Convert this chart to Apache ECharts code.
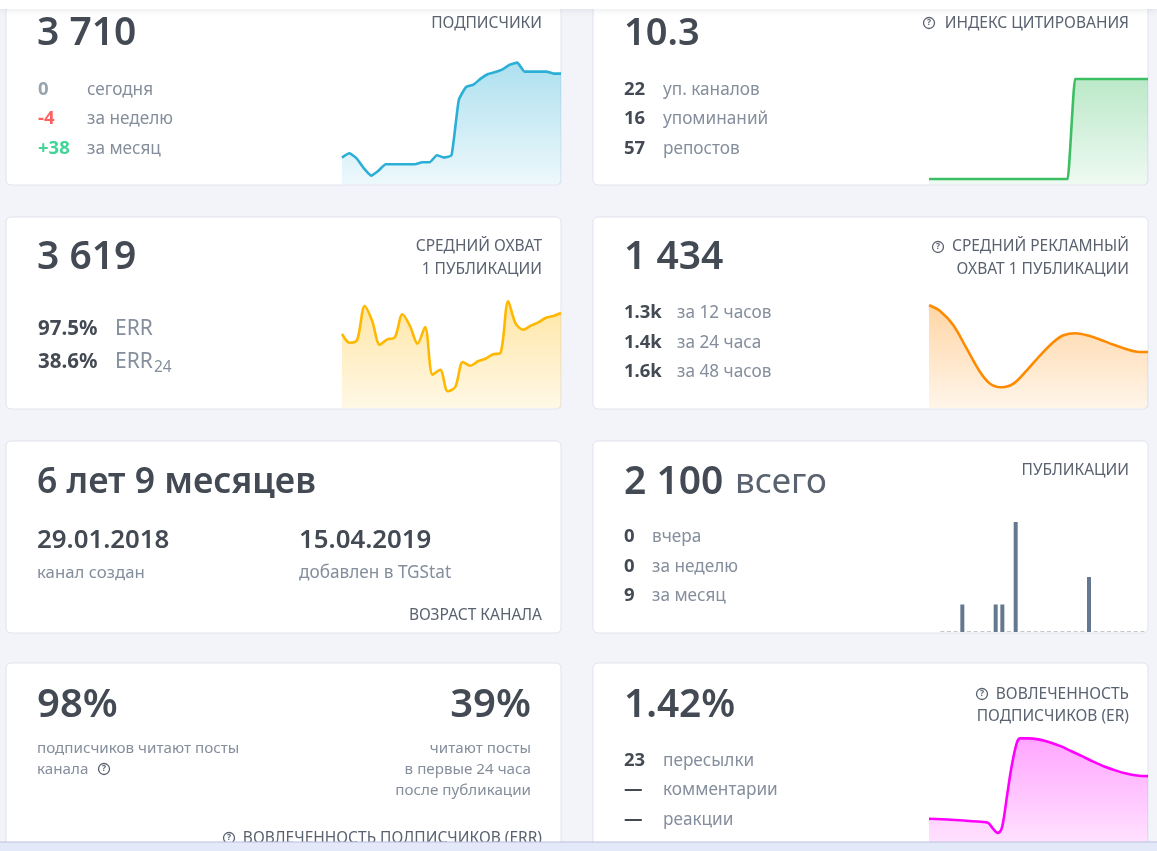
<!DOCTYPE html>
<html>
<head>
<meta charset="utf-8">
<title>TGStat</title>
<script src="https://cdn.jsdelivr.net/npm/echarts@6/dist/echarts.min.js"></script>
<style>
    html, body { margin:0; padding:0; background:#f3f4fa; overflow:hidden; }
    #main { width:1157px; height:851px; }
</style>
</head>
<body>
<div id="main"></div>
<script>
// значения снизу карточки
var subscribers = [26.7,31,26,16,8.7,13.7,20,20,20,20,20,22,22,29,26.7,29,84.3,97.3,99.7,105.7,110.3,112.3,115,119.7,121.7,112.7,112.7,112.7,112.7,110.7,110.7];
var citation = [5.3,5.3,5.3,5.3,5.3,5.3,5.3,5.3,5.3,5.3,5.3,5.3,5.3,5.3,5.3,5.3,5.3,5.3,5.3,5.3,105.3,105.3,105.3,105.3,105.3,105.3,105.3,105.3,105.3,105.3,105.3];
var avgReach = [74,65.3,68,102,87,63.3,68.7,70.7,93.7,82,64.3,81,33.3,38.3,16.7,21,46,42.3,46.7,49.3,53.7,55.3,106.7,84.3,78.3,82.3,85.7,90.3,92,95];
var adX = [0,33,73,113,153,183,218,253,293,333,373,403,438,473,513,553,593,623,656];
var adY = [102.7,97,82.7,59.3,36,24.3,20.7,24.3,37.7,52.7,66,72.7,74.7,72.7,68.3,63.3,58.7,56.3,56];
var posts = [0,0,0,1,0,0,0,0,1,1,0,4,0,0,0,0,0,0,0,0,0,0,2,0,0,0,0,0,0,0,0];
var erX = [0,66,131,176,191,206,216,223,235,248,263,273,296,328,361,394,427,460,492,525,558,591,623,656];
var erY = [33.3,32.3,30.7,29.3,23.3,18.7,21.7,31.7,60,88.3,111.7,116.3,116.3,115.3,112.3,108.3,103,97.7,92.3,87.3,83.3,80,78,77.3];

var cardRows = [-7, 217, 441, 663];
var cardCols = [6, 593];

var FONT = '"Noto Sans", sans-serif';
var DARK = '#434a54', GRAY = '#858e9c', CAPTION = '#5a6270';
var CAP_SIZE = 15.5, NOTE_SIZE = 15.2;

var elements = [];

var addText = function(x, y, str, size, color, weight, align){
    elements.push({
        type:'text', x:x, y:y, z:3,
        style:{
            text:str, fontFamily:FONT, fontSize:size, fill:color,
            fontWeight:weight || 400, align:align || 'left', verticalAlign:'middle'
        }
    });
};

var addCaption = function(x, y, str){
    addText(x, y, str, CAP_SIZE, CAPTION, 400, 'right');
};

var addHelp = function(x, y){
    elements.push({type:'circle', z:3, shape:{cx:x, cy:y, r:5.5}, style:{fill:'none', stroke:CAPTION, lineWidth:1.3}});
    addText(x, y, '?', 8.5, CAPTION, 700, 'center');
};

// строки вида "число подпись"
var addRows = function(xNum, xLabel, ys, nums, labels, colors, numSize, labelSize){
    for(var i=0; i<ys.length; i++){
        addText(xNum, ys[i], nums[i], numSize || 18.5, colors ? colors[i] : DARK, 700);
        addText(xLabel, ys[i], labels[i], labelSize || 17.2, GRAY);
    }
};

cardRows.forEach(function(top){
    cardCols.forEach(function(left){
        elements.push({
            type:'rect', z:0,
            shape:{x:left, y:top, width:555, height:192, r:5},
            style:{fill:'#ffffff', stroke:'#e0e3ea', lineWidth:1}
        });
    });
});

// шапка и нижняя панель
elements.push({type:'rect', z:1, shape:{x:0, y:0, width:1157, height:9},
    style:{fill:'#ffffff', shadowColor:'rgba(60,70,100,0.12)', shadowBlur:6, shadowOffsetY:1}});
elements.push({type:'rect', z:10, shape:{x:-3, y:842, width:1163, height:14},
    style:{fill:'#e3e9f8', stroke:'#b9c0da', lineWidth:1}});

// подписчики
addText(37, 34, '3 710', 39, DARK, 600);
addCaption(542, 24, 'ПОДПИСЧИКИ');
addRows(38, 87, [90,119,149], ['0','-4','+38'], ['сегодня','за неделю','за месяц'], ['#98a4ae','#ff5f5f','#3fd596']);

// индекс цитирования
addText(624, 34, '10.3', 38, DARK, 600);
addHelp(929, 23);
addCaption(1129, 24, 'ИНДЕКС ЦИТИРОВАНИЯ');
addRows(624, 663, [90,119,149], ['22','16','57'], ['уп. каналов','упоминаний','репостов']);

// средний охват
addText(37, 258, '3 619', 39, DARK, 600);
addCaption(542, 247, 'СРЕДНИЙ ОХВАТ');
addCaption(542, 270, '1 ПУБЛИКАЦИИ');
addRows(38, 115, [329,362], ['97.5%','38.6%'], ['ERR','ERR'], null, 20.5, 21);
addText(154, 368, '24', 15.5, GRAY);

// рекламный охват
addText(624, 258, '1 434', 39, DARK, 600);
addHelp(938, 247);
addCaption(1129, 247, 'СРЕДНИЙ РЕКЛАМНЫЙ');
addCaption(1129, 270, 'ОХВАТ 1 ПУБЛИКАЦИИ');
addRows(624, 677, [313,343,372], ['1.3k','1.4k','1.6k'], ['за 12 часов','за 24 часа','за 48 часов']);

// возраст канала
addText(37, 483, '6 лет 9 месяцев', 35.5, DARK, 600);
addText(37, 541, '29.01.2018', 25.8, DARK, 600);
addText(299, 541, '15.04.2019', 25.8, DARK, 600);
addText(37, 573, 'канал создан', 16.8, GRAY);
addText(299, 573, 'добавлен в TGStat', 17.2, GRAY);
addCaption(542, 616, 'ВОЗРАСТ КАНАЛА');

// публикации
addText(624, 483, '2 100', 39, DARK, 600);
addText(735, 483, 'всего', 35, CAPTION);
addCaption(1129, 471, 'ПУБЛИКАЦИИ');
addRows(624, 652, [537,567,596], ['0','0','9'], ['вчера','за неделю','за месяц']);

// ERR
addText(37, 706, '98%', 40, DARK, 600);
addText(531, 706, '39%', 40, DARK, 600, 'right');
addText(37, 749, 'подписчиков читают посты', NOTE_SIZE, GRAY);
addText(37, 770, 'канала', NOTE_SIZE, GRAY);
addHelp(104, 769);
addText(531, 749, 'читают посты', NOTE_SIZE, GRAY, 400, 'right');
addText(531, 770, 'в первые 24 часа', NOTE_SIZE, GRAY, 400, 'right');
addText(531, 791, 'после публикации', NOTE_SIZE, GRAY, 400, 'right');
addHelp(229, 838);
addCaption(542, 839, 'ВОВЛЕЧЕННОСТЬ ПОДПИСЧИКОВ (ERR)');

// ER
addText(624, 706, '1.42%', 38.8, DARK, 600);
addHelp(982, 694);
addCaption(1129, 695, 'ВОВЛЕЧЕННОСТЬ');
addCaption(1129, 717, 'ПОДПИСЧИКОВ (ER)');
addRows(624, 663, [761,790,820], ['23','—','—'], ['пересылки','комментарии','реакции']);

var grids = [], xAxes = [], yAxes = [], series = [];

var areaSeries = function(left, bottom, height, data, color, rgb, smooth, topA, bottomA, xValues){
    var i = grids.length;
    grids.push({left:left, top:bottom-height, width:219, height:height});
    if(xValues){
        xAxes.push({gridIndex:i, type:'value', min:0, max:656, show:false});
    }else{
        xAxes.push({gridIndex:i, type:'category', boundaryGap:false, show:false});
    }
    yAxes.push({gridIndex:i, type:'value', min:0, max:height, show:false});
    series.push({
        type:'line', xAxisIndex:i, yAxisIndex:i, z:2,
        data: xValues ? data.map(function(v, k){ return [xValues[k], v]; }) : data,
        smooth:smooth, showSymbol:false, silent:true, animation:false,
        lineStyle:{color:color, width:2.6},
        areaStyle:{color:new echarts.graphic.LinearGradient(0, 0, 0, 1, [
            {offset:0, color:'rgba('+rgb+','+topA+')'},
            {offset:1, color:'rgba('+rgb+','+bottomA+')'}
        ])}
    });
};

areaSeries(342, 184.3, 125, subscribers, '#2bafd6', '43,175,214', 0.15, 0.55, 0.12);
areaSeries(929, 184.3, 110, citation, '#3cbf63', '60,191,99', 0.1, 0.5, 0.12);
areaSeries(342, 408, 110, avgReach, '#ffb800', '255,184,0', 0.3, 0.5, 0.14);
areaSeries(929, 408, 110, adY, '#ff8a00', '255,138,0', 0.33, 0.5, 0.12, adX);
areaSeries(929, 855, 125, erY, '#ff00ff', '255,0,255', 0.33, 0.5, 0.14, erX);

// столбики публикаций
var barIndex = grids.length;
grids.push({left:939, top:522, width:206.7, height:110});
xAxes.push({gridIndex:barIndex, type:'category', show:false});
yAxes.push({gridIndex:barIndex, type:'value', min:0, max:4, show:false});
series.push({
    type:'bar', xAxisIndex:barIndex, yAxisIndex:barIndex, z:2,
    data:posts, barWidth:4, barMinHeight:1, silent:true, animation:false,
    itemStyle:{color:function(p){ return p.value > 0 ? '#64798f' : '#c3c8d0'; }}
});

var chart = echarts.init(document.getElementById('main'));
chart.setOption({
    backgroundColor:'#f3f4fa',
    animation:false,
    grid:grids,
    xAxis:xAxes,
    yAxis:yAxes,
    series:series,
    graphic:{elements:elements}
});
</script>
</body>
</html>
